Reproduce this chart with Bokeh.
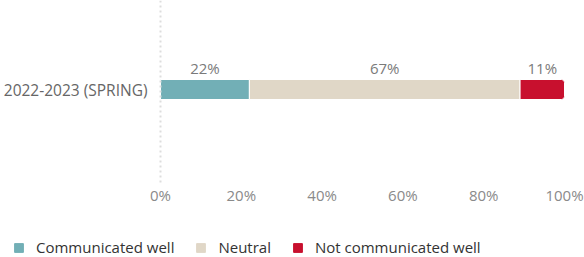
import numpy as np
from bokeh.plotting import figure
from bokeh.layouts import column
from bokeh.models import Range1d, FixedTicker, Legend, LegendItem, ColumnDataSource, Span
from bokeh.core.properties import value
from bokeh.embed import file_html
from bokeh.resources import INLINE

categories = ["2022-2023 (SPRING)"]
series = ["Communicated well", "Neutral", "Not communicated well"]
communicated_well = [22]
neutral = [67]
not_communicated_well = [11]
colors = ["#72AFB6", "#E0D7C7", "#C8102E"]
x_ticks = [0, 20, 40, 60, 80, 100]

FONT = "Open Sans"
W = 584
PLOT_L, PLOT_R = 160, 564  # pixel positions of 0% and 100%
scale = (PLOT_R - PLOT_L) / 100.0

p = figure(width=W, height=208, output_backend="svg", toolbar_location=None,
           x_range=Range1d(-PLOT_L / scale, 100 + (W - PLOT_R) / scale),
           y_range=Range1d(-0.95, 0.89), y_axis_location=None,
           min_border_left=0, min_border_right=0, min_border_top=0,
           min_border_bottom=24)
p.outline_line_color = None
p.xgrid.visible = False
p.ygrid.visible = False

# dotted baseline at 0%
p.add_layout(Span(location=0, dimension="height", line_color="#DDDDDD",
                  line_dash="2 3", line_width=2))

vals = [communicated_well, neutral, not_communicated_well]
ypos = list(range(len(categories)))
bars = []
left = np.zeros(len(categories))
n = len(series)
for i, (name, v, c) in enumerate(zip(series, vals, colors)):
    v = np.array(v, dtype=float)
    right = left + v
    src = ColumnDataSource(dict(y=ypos, left=left, right=right, mid=(left + right) / 2,
                                top=np.array(ypos) + 0.1,
                                lab=[f"{int(x)}%" for x in v]))
    bars.append(src)
    radius = (0, 3, 3, 0) if i == n - 1 else 0
    p.hbar(y="y", left="left", right="right", height=0.2, source=src,
           fill_color=c, line_color="white", line_width=1, border_radius=radius)
    p.text(x="mid", y="top", text="lab", source=src, y_offset=-2,
           text_align="center", text_baseline="bottom",
           text_font=value(FONT), text_font_size="15px", text_color="#7a7a7a")
    left = right

# category labels
cat_src = ColumnDataSource(dict(x=[0] * len(categories), y=ypos, t=categories))
p.text(x="x", y="y", text="t", source=cat_src, x_offset=-13,
       text_align="right", text_baseline="middle",
       text_font=value(FONT), text_font_size="15.5px", text_color="#666666")

# x axis
p.xaxis.ticker = FixedTicker(ticks=x_ticks)
p.xaxis.major_label_overrides = {t: f"{t}%" for t in x_ticks}
p.xaxis.axis_line_color = None
p.xaxis.major_tick_line_color = None
p.xaxis.minor_tick_line_color = None
p.xaxis.major_tick_out = 0
p.xaxis.major_tick_in = 0
p.xaxis.major_label_standoff = 0
p.xaxis.major_label_text_font = FONT
p.xaxis.major_label_text_font_size = "15px"
p.xaxis.major_label_text_color = "#8a8a8a"

# legend figure (bars drawn off-range, only their legend swatches show)
p2 = figure(width=W, height=49, output_backend="svg", toolbar_location=None,
            x_axis_location=None, y_axis_location=None, min_border=0,
            x_range=Range1d(0, 100), y_range=Range1d(10, 11))
p2.outline_line_color = None
p2.xgrid.visible = False
p2.ygrid.visible = False
items = []
for name, c, src in zip(series, colors, bars):
    r = p2.hbar(y="y", left="left", right="right", height=0.2, source=src,
                fill_color=c, line_color=c, border_radius=2)
    items.append(LegendItem(label=name, renderers=[r]))
legend = Legend(items=items, orientation="horizontal", location=(13, 0),
                label_text_font=FONT, label_text_font_size="15px", label_text_color="#333333",
                glyph_width=11, glyph_height=11, label_standoff=12, spacing=21,
                label_height=18, border_line_color=None, background_fill_alpha=0,
                padding=0, margin=0)
p2.add_layout(legend, "center")

layout = column(p, p2, spacing=0)
open("out.html", "w").write(file_html(layout, INLINE))
